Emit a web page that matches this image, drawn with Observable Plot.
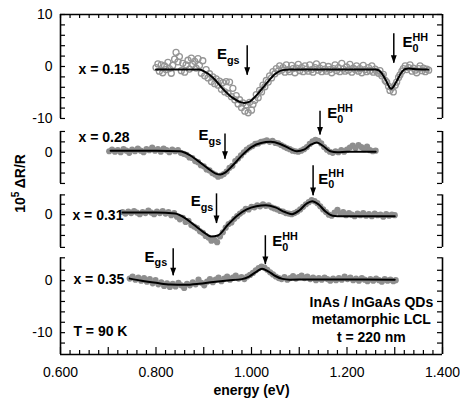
<!DOCTYPE html>
<html><head><meta charset="utf-8">
<script src="https://cdn.jsdelivr.net/npm/d3@7"></script>
<script src="https://cdn.jsdelivr.net/npm/@observablehq/plot@0.6"></script>
<style>html,body{margin:0;padding:0;background:#fff}svg{display:block}</style>
</head><body><div id="chart"></div>
<script>
// ---------------- data ----------------
const panelLabels = ["x = 0.15", "x = 0.28", "x = 0.31", "x = 0.35"];
const panelOffsets = [0, -16.5, -28.5, -41.2];           // vertical stacking of the four spectra
const panelAxisRanges = [[-10, 10], [-6, 4], [-6.3, 3.8], [-14.2, 4.4]];
const panelMinorTicks = [
  [10, 8, 6, 4, 2, 0, -2, -4, -6, -8, -10],
  [4, 2, 0, -2, -4, -6],
  [3.8, 2, 0, -2, -4, -6.3],
  [4.4, 2, 0, -2, -4, -6, -8, -10, -12]
];
const panelTickValues = [[10, 0, -10], [0], [0], [0, -10]];
const xTicks = [0.6, 0.8, 1.0, 1.2, 1.4];
const xTickLabels = ["0.600", "0.800", "1.000", "1.200", "1.400"];

// measured ΔR/R (x 1e5) points
const pts015 = [
[0.800,-0.2],[0.804,0.5],[0.807,-0.9],[0.811,0.3],[0.814,-1.2],[0.818,0.1],[0.821,-0.6],[0.825,0.8],[0.828,-0.4],[0.832,-1.3],
[0.835,0.2],[0.839,1.4],[0.842,2.7],[0.846,0.9],[0.849,1.9],[0.853,-0.8],[0.856,0.6],[0.860,-1.1],[0.863,0.3],[0.867,1.2],
[0.870,-0.5],[0.874,1.6],[0.877,0.4],[0.881,1.0],[0.884,-0.3],[0.888,1.5],[0.891,0.2],[0.895,-1.3],[0.898,1.1],[0.902,-1.8],
[0.905,-0.6],[0.909,-2.2],[0.912,-1.4],[0.916,-2.9],[0.919,-2.0],[0.923,-3.3],[0.926,-2.4],[0.930,-3.6],[0.933,-2.8],[0.937,-4.4],
[0.940,-3.1],[0.944,-4.9],[0.947,-2.9],[0.951,-5.2],[0.954,-3.0],[0.958,-5.8],[0.961,-4.2],[0.965,-6.4],[0.968,-5.6],[0.972,-7.2],
[0.975,-6.4],[0.979,-7.9],[0.982,-7.0],[0.986,-8.6],[0.989,-7.4],[0.993,-8.9],[0.996,-6.9],[1.000,-8.4],[1.003,-7.3],[1.007,-6.5],
[1.010,-5.4],[1.014,-6.0],[1.017,-4.6],[1.021,-4.9],[1.024,-3.6],[1.028,-3.9],[1.031,-2.7],[1.035,-3.0],[1.038,-1.8],[1.042,-2.2],
[1.045,-1.0],[1.049,-1.4],[1.052,-0.4],[1.056,-0.9],[1.059,0.1],[1.063,-0.7],[1.066,-0.2],[1.070,-1.1],[1.073,0.3],[1.077,-0.6],
[1.080,-1.0],[1.084,0.2],[1.087,-0.4],[1.091,-1.2],[1.094,-0.3],[1.098,0.4],[1.101,-0.8],[1.105,-0.2],[1.108,-1.0],[1.112,0.1],
[1.115,-0.5],[1.119,-0.9],[1.122,0.3],[1.126,-0.6],[1.129,-1.1],[1.133,-0.2],[1.136,0.5],[1.140,-0.7],[1.143,-0.3],[1.147,-1.0],
[1.150,0.2],[1.154,-0.5],[1.157,-0.9],[1.161,0.0],[1.164,-0.6],[1.168,-1.2],[1.171,-0.4],[1.175,0.3],[1.178,-0.8],[1.182,-0.2],
[1.185,-1.0],[1.189,0.6],[1.192,-0.5],[1.196,-0.9],[1.199,-0.1],[1.203,-0.7],[1.206,0.4],[1.210,-1.1],[1.213,-0.3],[1.217,-0.6],
[1.220,0.1],[1.224,-0.9],[1.227,-0.4],[1.231,-1.2],[1.234,0.2],[1.238,-0.6],[1.241,-1.0],[1.245,-0.2],[1.248,-0.8],[1.252,0.1],
[1.255,-1.1],[1.259,-0.5],[1.262,-0.9],[1.266,-1.3],[1.269,-0.8],[1.273,-1.8],[1.276,-1.5],[1.280,-2.7],[1.283,-3.0],[1.287,-3.8],
[1.290,-4.6],[1.294,-4.1],[1.297,-4.9],[1.301,-3.6],[1.304,-3.0],[1.308,-2.1],[1.311,-1.6],[1.315,-0.9],[1.318,-0.4],[1.322,0.1],
[1.325,-0.6],[1.329,-0.2],[1.332,0.3],[1.336,-0.9],[1.339,-0.3],[1.343,-0.7],[1.346,-1.2],[1.350,-0.4],[1.353,0.1],[1.357,-0.8],
[1.360,-0.3],[1.364,-1.0],[1.367,-0.5],[1.371,-0.7]
];
const pts028 = [
[0.702,0.2],[0.708,0.5],[0.714,0.1],[0.720,0.4],[0.726,0.0],[0.732,0.6],[0.738,0.3],[0.744,-0.1],[0.750,0.5],[0.756,0.2],
[0.762,0.7],[0.768,0.3],[0.774,0.0],[0.780,0.6],[0.786,0.4],[0.792,0.9],[0.798,0.3],[0.804,0.6],[0.810,0.1],[0.816,0.7],
[0.822,0.4],[0.828,0.0],[0.834,0.5],[0.840,0.2],[0.846,0.4],[0.852,-0.1],[0.858,-0.3],[0.864,-0.5],[0.870,-1.0],[0.876,-1.1],
[0.882,-1.7],[0.888,-1.9],[0.894,-2.5],[0.900,-2.7],[0.906,-3.3],[0.912,-3.5],[0.918,-4.0],[0.924,-4.3],[0.930,-4.7],[0.936,-4.5],
[0.942,-4.2],[0.948,-3.7],[0.954,-3.0],[0.960,-2.6],[0.966,-1.7],[0.972,-1.2],[0.978,-0.6],[0.984,0.0],[0.990,0.5],[0.996,0.9],
[1.002,1.2],[1.008,1.6],[1.014,1.7],[1.020,2.0],[1.026,2.1],[1.032,2.3],[1.038,2.0],[1.044,2.2],[1.050,1.8],[1.056,1.7],
[1.062,1.4],[1.068,1.1],[1.074,0.8],[1.080,0.6],[1.086,0.3],[1.092,0.2],[1.098,0.1],[1.104,0.3],[1.110,0.6],[1.116,1.0],
[1.122,1.6],[1.128,2.1],[1.134,2.4],[1.140,2.2],[1.146,1.7],[1.152,1.0],[1.158,0.5],[1.164,0.1],[1.170,-0.1],[1.176,0.2],
[1.182,0.0],[1.188,0.4],[1.194,0.1],[1.200,0.5],[1.206,0.9],[1.212,1.3],[1.218,0.8],[1.224,1.4],[1.230,1.0],[1.236,0.6],
[1.242,1.1],[1.248,0.4],[1.254,0.2],[1.260,0.3]
];
const pts031 = [
[0.730,0.5],[0.736,0.2],[0.742,0.6],[0.748,0.3],[0.754,0.7],[0.760,0.4],[0.766,0.1],[0.772,0.5],[0.778,0.3],[0.784,0.8],
[0.790,0.4],[0.796,0.1],[0.802,0.6],[0.808,0.3],[0.814,0.7],[0.820,0.2],[0.826,0.5],[0.832,-0.1],[0.838,0.3],[0.844,-0.4],
[0.850,-0.9],[0.856,-0.6],[0.862,-1.4],[0.868,-1.2],[0.874,-2.0],[0.880,-2.3],[0.886,-2.6],[0.892,-3.2],[0.898,-3.5],[0.904,-4.1],
[0.910,-4.4],[0.916,-5.0],[0.922,-4.8],[0.928,-5.3],[0.934,-4.2],[0.940,-3.4],[0.946,-2.5],[0.952,-1.8],[0.958,-1.5],[0.964,-0.8],
[0.970,-0.3],[0.976,0.2],[0.982,0.6],[0.988,1.1],[0.994,1.0],[1.000,1.5],[1.006,1.4],[1.012,1.8],[1.018,1.6],[1.024,2.0],
[1.030,1.7],[1.036,1.8],[1.042,1.4],[1.048,1.2],[1.054,1.0],[1.060,0.7],[1.066,0.6],[1.072,0.3],[1.078,0.2],[1.084,0.1],
[1.090,0.3],[1.096,0.6],[1.102,1.0],[1.108,1.5],[1.114,2.0],[1.120,2.4],[1.126,2.8],[1.132,2.6],[1.138,2.2],[1.144,1.6],
[1.150,1.0],[1.156,0.5],[1.162,0.0],[1.168,-0.2],[1.174,0.4],[1.180,0.9],[1.186,0.2],[1.192,0.5],[1.198,-0.1],[1.204,0.3],
[1.210,0.0],[1.216,-0.3],[1.222,0.2],[1.228,-0.1],[1.234,0.3],[1.240,-0.2],[1.246,0.1],[1.252,-0.3],[1.258,0.2],[1.264,-0.1],
[1.270,0.0],[1.276,-0.4],[1.282,0.1],[1.288,-0.2],[1.294,0.0],[1.300,-0.1]
];
const pts035 = [
[0.745,0.4],[0.751,0.8],[0.757,0.2],[0.763,0.6],[0.769,0.0],[0.775,0.5],[0.781,-0.2],[0.787,0.3],[0.793,-0.5],[0.799,0.1],
[0.805,-0.7],[0.811,-0.3],[0.817,-1.0],[0.823,-0.5],[0.829,-1.2],[0.835,-0.6],[0.841,-1.1],[0.847,-0.4],[0.853,-0.9],[0.859,-1.4],
[0.865,-0.6],[0.871,-0.9],[0.877,-0.3],[0.883,-0.7],[0.889,0.2],[0.895,-0.4],[0.901,-0.9],[0.907,-0.2],[0.913,0.3],[0.919,-0.3],
[0.925,0.2],[0.931,0.6],[0.937,-0.1],[0.943,0.4],[0.949,0.8],[0.955,0.2],[0.961,0.6],[0.967,1.0],[0.973,0.4],[0.979,0.7],
[0.985,0.3],[0.991,0.8],[0.997,1.1],[1.003,1.5],[1.009,2.0],[1.015,2.4],[1.021,2.7],[1.027,2.5],[1.033,2.1],[1.039,1.6],
[1.045,1.2],[1.051,0.8],[1.057,0.5],[1.063,0.3],[1.069,0.7],[1.075,0.2],[1.081,0.5],[1.087,0.9],[1.093,0.4],[1.099,0.7],
[1.105,1.0],[1.111,0.5],[1.117,0.8],[1.123,0.3],[1.129,0.6],[1.135,0.1],[1.141,0.5],[1.147,0.2],[1.153,0.6],[1.159,0.3],
[1.165,0.0],[1.171,0.4],[1.177,0.1],[1.183,0.5],[1.189,0.2],[1.195,0.8],[1.201,0.3],[1.207,0.6],[1.213,0.1],[1.219,0.4],
[1.225,0.0],[1.231,0.5],[1.237,0.2],[1.243,-0.1],[1.249,0.3],[1.255,0.0],[1.261,0.4],[1.267,0.1],[1.273,-0.2],[1.279,0.3],
[1.285,0.0],[1.291,0.2],[1.297,-0.1],[1.302,0.1]
];

// fitted curves
const fit015 = [[0.80,-0.6],[0.85,-0.6],[0.89,-0.6],[0.90,-0.9],[0.92,-2.2],[0.94,-4.3],[0.96,-6.0],[0.975,-6.8],[0.985,-7.0],
[0.995,-6.8],[1.01,-5.6],[1.03,-3.4],[1.05,-1.4],[1.065,-0.7],[1.08,-0.6],[1.15,-0.6],[1.26,-0.6],[1.27,-1.0],[1.28,-2.4],
[1.2925,-4.3],[1.303,-3.0],[1.313,-1.3],[1.322,-0.5],[1.33,-0.4],[1.34,-0.5],[1.37,-0.6]];
const fit028 = [[0.705,0.3],[0.75,0.3],[0.80,0.3],[0.85,0.2],[0.87,-0.5],[0.89,-1.8],[0.91,-3.2],[0.925,-4.1],[0.935,-4.3],
[0.945,-3.9],[0.96,-2.6],[0.98,-0.6],[1.00,1.0],[1.02,1.8],[1.04,2.0],[1.06,1.6],[1.08,0.7],[1.095,0.2],[1.11,0.5],[1.125,1.5],
[1.137,1.9],[1.15,1.2],[1.165,0.2],[1.18,0.0],[1.20,0.1],[1.26,0.1]];
const fit031 = [[0.73,0.4],[0.80,0.4],[0.84,0.2],[0.86,-0.6],[0.88,-2.0],[0.90,-3.4],[0.915,-4.2],[0.93,-4.0],[0.95,-2.0],
[0.97,-0.2],[0.99,1.0],[1.01,1.6],[1.03,1.8],[1.05,1.4],[1.07,0.5],[1.085,0.1],[1.10,0.8],[1.115,2.1],[1.127,2.6],[1.14,2.0],
[1.155,0.6],[1.17,-0.2],[1.19,-0.3],[1.30,-0.3]];
const fit035 = [[0.745,0.4],[0.77,0.0],[0.80,-0.4],[0.83,-0.75],[0.86,-0.8],[0.89,-0.6],[0.92,-0.25],[0.95,0.05],[0.98,0.3],
[0.995,0.8],[1.01,1.7],[1.022,2.3],[1.035,1.8],[1.05,0.9],[1.065,0.35],[1.08,0.2],[1.12,0.25],[1.20,0.25],[1.30,0.2]];

// transition markers: panel, energy, arrow top, arrow tip, label, label energy, label value, anchor
const markerPanel  = [0, 0, 1, 1, 2, 2, 3, 3];
const markerEnergy = [0.991, 1.298, 0.9445, 1.1435, 0.9267, 1.129, 0.836, 1.029];
const markerTop    = [4.0, 6.3, 3.5, 7.9, 4.0, 9.4, 6.15, 8.65];
const markerTip    = [-1.7, 0.6, -1.35, 3.3, -1.7, 3.65, 0.96, 3.1];
const markerText   = ["E_{gs}", "E_{0}^{HH}", "E_{gs}", "E_{0}^{HH}", "E_{gs}", "E_{0}^{HH}", "E_{gs}", "E_{0}^{HH}"];
const markerTextE  = [0.975, 1.316, 0.9365, 1.1585, 0.92, 1.140, 0.8234, 1.0433];
const markerTextV  = [2.3, 4.7, 3.3, 7.5, 2.5, 6.9, 4.6, 7.6];
const markerAnchor = ["end", "start", "end", "start", "end", "start", "end", "start"];

// ---------------- build ----------------
const series = [pts015, pts028, pts031, pts035];
const fits = [fit015, fit028, fit031, fit035];
const points = series.flatMap((s, i) => s.map(([e, v]) => ({panel: i, e, y: v + panelOffsets[i]})));
const lines = fits.flatMap((s, i) => s.map(([e, v]) => ({panel: i, e, y: v + panelOffsets[i]})));
const segs = panelAxisRanges.map(([a, b], i) => ({y1: a + panelOffsets[i], y2: b + panelOffsets[i]}));
const sideTicks = panelMinorTicks.flatMap((t, i) => t.map(v => ({y: v + panelOffsets[i]})));
const tickLabelRows = panelTickValues.flatMap((t, i) => t.map(v => ({y: v + panelOffsets[i], t: String(v)})));
const yBottom = -55.4, yTop = 10;
const xMinor = d3.range(0, 41).map(i => 0.6 + i * 0.02);
const xMid = xMinor.filter((d, i) => i % 5 === 0);
const xSmall = xMinor.filter((d, i) => i % 5 !== 0);
const markers = markerPanel.map((p, i) => ({
  e: markerEnergy[i], yt: markerTop[i] + panelOffsets[p], yb: markerTip[i] + panelOffsets[p],
  text: markerText[i], te: markerTextE[i], tv: markerTextV[i] + panelOffsets[p], anchor: markerAnchor[i]
}));
const panelLabelRows = [
  {e: 0.6377, y: -0.5 + panelOffsets[0], t: panelLabels[0]},
  {e: 0.6377, y: 2.8 + panelOffsets[1], t: panelLabels[1]},
  {e: 0.625, y: -0.2 + panelOffsets[2], t: panelLabels[2]},
  {e: 0.627, y: 0.2 + panelOffsets[3], t: panelLabels[3]}
];
const arrowHead = {draw(ctx, size) {
  const r = Math.sqrt(size / Math.PI);
  ctx.moveTo(0, 0); ctx.lineTo(-0.95 * r, -2.6 * r); ctx.lineTo(0.95 * r, -2.6 * r); ctx.closePath();
}};
const grey = "#8e8e8e";
const FW = 382, FH = 340;

const chart = Plot.plot({
  width: 460, height: 411,
  marginLeft: 60, marginRight: 18, marginTop: 14, marginBottom: 57,
  x: {domain: [0.6, 1.4], axis: null},
  y: {domain: [yBottom, yTop], axis: null},
  style: {fontFamily: "'Liberation Sans', Arial, sans-serif", background: "#fff", color: "#000", overflow: "visible"},
  marks: [
    // data
    Plot.dot(points.filter(d => d.panel === 0), {x: "e", y: "y", r: 3, stroke: "#959595", strokeWidth: 1.3, fill: "none"}),
    Plot.dot(points.filter(d => d.panel > 0), {x: "e", y: "y", r: 3.1, fill: grey}),
    Plot.line(lines, {x: "e", y: "y", z: "panel", stroke: "#000", strokeWidth: 2, curve: "monotone-x"}),
    // frame
    Plot.ruleX(segs, {x: 0.6, y1: "y1", y2: "y2", strokeWidth: 1.6}),
    Plot.ruleX(segs, {x: 1.4, y1: "y1", y2: "y2", strokeWidth: 1.6}),
    Plot.ruleY([yTop, yBottom], {strokeWidth: 1.6}),
    Plot.tickY(sideTicks, {y: "y", insetRight: FW - 5, strokeWidth: 1.2}),
    Plot.tickY(sideTicks, {y: "y", insetLeft: FW - 5, strokeWidth: 1.2}),
    Plot.tickX(xMinor, {x: d => d, insetBottom: FH - 4, strokeWidth: 1.2}),
    Plot.tickX(xSmall, {x: d => d, insetTop: FH - 4, strokeWidth: 1.2}),
    Plot.tickX(xMid, {x: d => d, insetTop: FH - 7, strokeWidth: 1.2}),
    // tick labels
    Plot.text(tickLabelRows, {frameAnchor: "left", y: "y", text: "t", textAnchor: "end", dx: -8, fontSize: 14}),
    Plot.text(xTicks, {x: d => d, frameAnchor: "bottom", text: (d, i) => xTickLabels[i], dy: 22, fontSize: 14}),
    // axis titles
    Plot.text(["energy (eV)"], {x: 1.0, frameAnchor: "bottom", dy: 40, fontSize: 14, fontWeight: "bold"}),
    Plot.text(["10^{5} ΔR/R"], {x: 0.6 - 40 / 477.5, y: -22.5, rotate: -90, fontSize: 14, fontWeight: "bold"}),
    // panel labels and notes
    Plot.text(panelLabelRows, {x: "e", y: "y", text: "t", textAnchor: "start", fontSize: 14, fontWeight: "bold"}),
    Plot.text(["T = 90 K"], {x: 0.627, y: -9.8 + panelOffsets[3], textAnchor: "start", fontSize: 14, fontWeight: "bold"}),
    Plot.text(["InAs / InGaAs QDs\nmetamorphic LCL\nt = 220 nm"], {x: 1.251, y: -7.3 + panelOffsets[3], fontSize: 14, fontWeight: "bold", lineHeight: 1.25}),
    // transition markers
    Plot.ruleX(markers, {x: "e", y1: "yt", y2: "yb", strokeWidth: 1.5}),
    Plot.dot(markers, {x: "e", y: "yb", symbol: arrowHead, r: 3.1, fill: "#000", stroke: "none"}),
    Plot.text(markers.filter(d => d.anchor === "end"), {x: "te", y: "tv", text: "text", textAnchor: "end", fontSize: 15, fontWeight: "bold"}),
    Plot.text(markers.filter(d => d.anchor === "start"), {x: "te", y: "tv", text: "text", textAnchor: "start", fontSize: 15, fontWeight: "bold"})
  ]
});
document.getElementById("chart").appendChild(chart);

// rich text: _{sub} and ^{sup}
function applyRich(svg) {
  svg.querySelectorAll("text").forEach(t => {
    const s = t.textContent;
    if (!/[_^]\{/.test(s) || t.querySelector("tspan")) return;
    const fs = parseFloat(getComputedStyle(t).fontSize);
    const parts = s.split(/(_\{[^}]*\}|\^\{[^}]*\})/).filter(p => p !== "");
    while (t.firstChild) t.removeChild(t.firstChild);
    let shift = 0, prev = null, prevType = null;
    parts.forEach(p => {
      const ts = document.createElementNS("http://www.w3.org/2000/svg", "tspan");
      let type = "base", txt = p;
      if (p.startsWith("_{")) { type = "sub"; txt = p.slice(2, -1); }
      else if (p.startsWith("^{")) { type = "sup"; txt = p.slice(2, -1); }
      const target = type === "sub" ? 0.32 * fs : type === "sup" ? -0.42 * fs : 0;
      if (type !== "base") ts.setAttribute("font-size", (0.72 * fs).toFixed(1));
      if (target - shift !== 0) ts.setAttribute("dy", (target - shift).toFixed(2));
      shift = target;
      ts.textContent = txt;
      t.appendChild(ts);
      if (type === "sup" && prevType === "sub") ts.setAttribute("dx", (-prev.getComputedTextLength()).toFixed(2));
      prev = ts; prevType = type;
    });
  });
}
applyRich(chart);
</script>
</body></html>
